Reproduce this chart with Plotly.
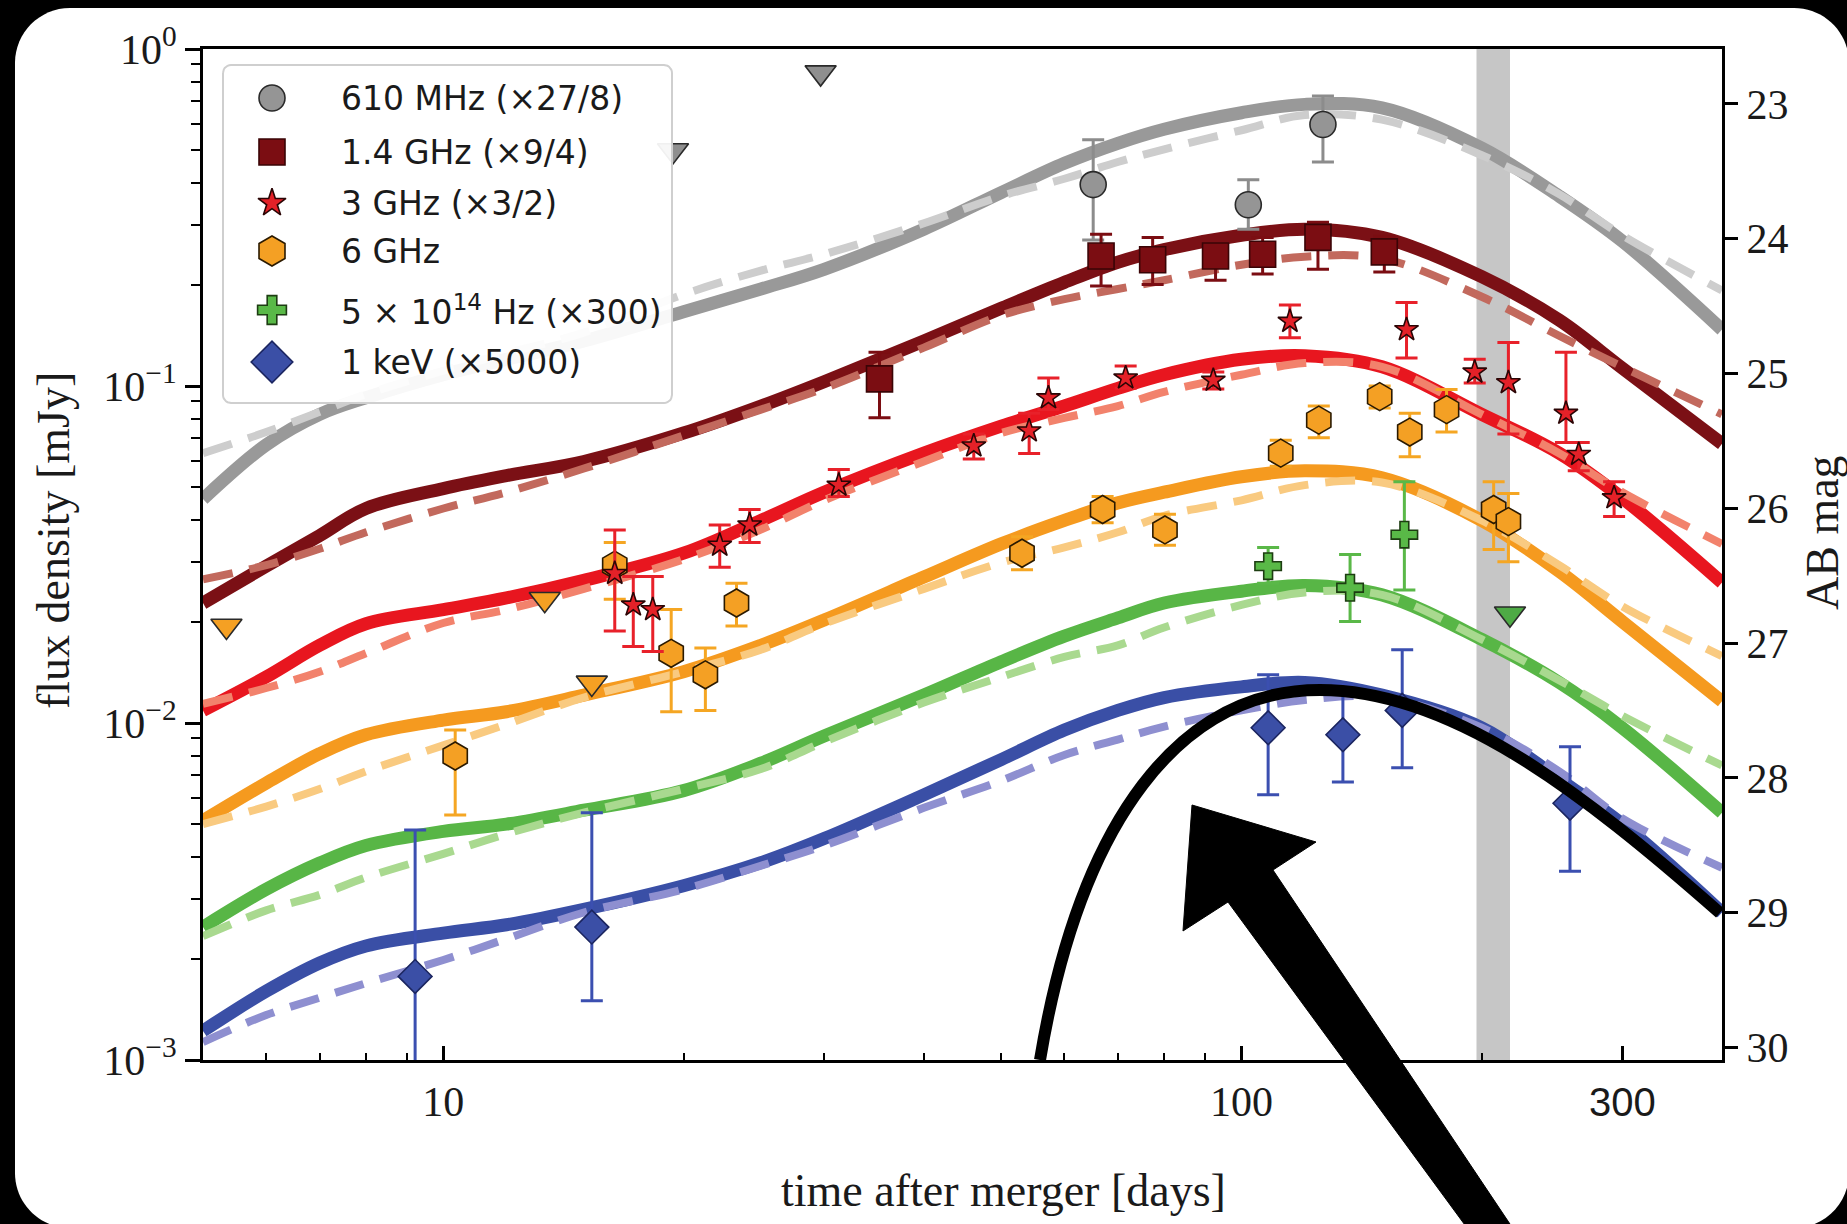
import numpy as np
import plotly.graph_objects as go

# ---------------- model light curves (days, mJy) ----------------
t_model = [5, 6, 7, 8, 10, 12, 15, 20, 25, 30, 40, 50, 60, 70, 80, 100, 120, 150, 200, 250, 300, 400]

m610_a = [0.0462, 0.0669, 0.0824, 0.0923, 0.108, 0.120, 0.136, 0.166, 0.194, 0.222, 0.292, 0.375, 0.458, 0.525, 0.578, 0.647, 0.685, 0.669, 0.508, 0.366, 0.269, 0.147]
m610_b = [0.0632, 0.0730, 0.0838, 0.0945, 0.111, 0.125, 0.144, 0.187, 0.220, 0.246, 0.304, 0.366, 0.412, 0.462, 0.504, 0.574, 0.637, 0.617, 0.484, 0.371, 0.280, 0.192]
m1p4_a = [0.0227, 0.0292, 0.0360, 0.0433, 0.0496, 0.0542, 0.0597, 0.0725, 0.0872, 0.103, 0.136, 0.170, 0.203, 0.233, 0.254, 0.280, 0.292, 0.276, 0.211, 0.157, 0.113, 0.0674]
m1p4_b = [0.0267, 0.0294, 0.0329, 0.0368, 0.0433, 0.0484, 0.0569, 0.0713, 0.0851, 0.0984, 0.130, 0.162, 0.181, 0.194, 0.206, 0.229, 0.242, 0.239, 0.184, 0.141, 0.114, 0.0824]
m3_a = [0.0109, 0.0137, 0.0170, 0.0197, 0.0217, 0.0235, 0.0265, 0.0319, 0.0399, 0.0484, 0.0632, 0.0760, 0.0872, 0.0984, 0.108, 0.120, 0.123, 0.114, 0.0824, 0.0632, 0.0465, 0.0261]
m3_b = [0.0114, 0.0127, 0.0142, 0.0161, 0.0198, 0.0217, 0.0250, 0.0306, 0.0375, 0.0458, 0.0597, 0.0725, 0.0804, 0.0872, 0.0960, 0.108, 0.117, 0.114, 0.0824, 0.0632, 0.0484, 0.0340]
m6_a = [0.00513, 0.00663, 0.00811, 0.00923, 0.0102, 0.0108, 0.0121, 0.0142, 0.0170, 0.0202, 0.0271, 0.0340, 0.0399, 0.0450, 0.0484, 0.0538, 0.0560, 0.0534, 0.0399, 0.0282, 0.0200, 0.0116]
m6_b = [0.00501, 0.00565, 0.00637, 0.00719, 0.00858, 0.00992, 0.0119, 0.0142, 0.0165, 0.0197, 0.0250, 0.0299, 0.0332, 0.0368, 0.0412, 0.0458, 0.0508, 0.0517, 0.0399, 0.0294, 0.0222, 0.0158]
mopt_a = [0.00248, 0.00321, 0.00384, 0.00433, 0.00477, 0.00501, 0.00551, 0.00630, 0.00760, 0.00915, 0.0121, 0.0152, 0.0181, 0.0205, 0.0227, 0.0246, 0.0256, 0.0240, 0.0177, 0.0132, 0.00968, 0.00542]
mopt_b = [0.00233, 0.00278, 0.00309, 0.00348, 0.00409, 0.00469, 0.00542, 0.00637, 0.00730, 0.00879, 0.0115, 0.0137, 0.0157, 0.0170, 0.0192, 0.0224, 0.0244, 0.0240, 0.0177, 0.0134, 0.0105, 0.00748]
mx_a = [0.00122, 0.00160, 0.00194, 0.00218, 0.00238, 0.00252, 0.00280, 0.00329, 0.00385, 0.00454, 0.00612, 0.00779, 0.00953, 0.0109, 0.0119, 0.0128, 0.0132, 0.0121, 0.00968, 0.00680, 0.00501, 0.00274]
mx_b = [0.00113, 0.00136, 0.00153, 0.00169, 0.00198, 0.00229, 0.00274, 0.00321, 0.00377, 0.00433, 0.00560, 0.00674, 0.00804, 0.00893, 0.00976, 0.0109, 0.0117, 0.0119, 0.00968, 0.00719, 0.00521, 0.00372]

# ---------------- observations ----------------
t_610 = [65.2, 102, 126.5]
f_610 = [0.396, 0.345, 0.597]
f_610_hi = [0.538, 0.409, 0.725]
f_610_lo = [0.271, 0.292, 0.462]
t_610_ul = [19.4, 29.7]
f_610_ul = [0.50, 0.851]

t_1p4 = [35.2, 66.7, 77.4, 92.8, 106.3, 124.7, 151]
f_1p4 = [0.105, 0.243, 0.237, 0.243, 0.246, 0.276, 0.250]
f_1p4_hi = [0.126, 0.282, 0.276, 0.263, 0.276, 0.306, 0.278]
f_1p4_lo = [0.0805, 0.198, 0.200, 0.206, 0.215, 0.222, 0.218]

t_3 = [16.4, 17.3, 18.3, 22.2, 24.2, 31.3, 46.2, 54.2, 57.3, 71.6, 92.2, 115, 161, 196, 216, 255, 264.6, 293]
f_3 = [0.0278, 0.0224, 0.0217, 0.0337, 0.0387, 0.0508, 0.0664, 0.0736, 0.0923, 0.1057, 0.104, 0.1556, 0.147, 0.110, 0.1023, 0.083, 0.0627, 0.0466]
f_3_hi = [0.0374, 0.0272, 0.0272, 0.0387, 0.043, 0.0565, 0.072, 0.083, 0.1057, 0.1146, 0.110, 0.174, 0.177, 0.120, 0.1346, 0.126, 0.068, 0.052]
f_3_lo = [0.01875, 0.01687, 0.0163, 0.029, 0.0343, 0.047, 0.0607, 0.063, 0.0851, 0.0984, 0.098, 0.139, 0.121, 0.102, 0.072, 0.068, 0.056, 0.041]

t_6 = [10.35, 16.4, 19.3, 21.3, 23.3, 53.1, 67, 80.2, 112, 125, 149, 162.5, 180.7, 207, 216]
f_6 = [0.00798, 0.0294, 0.0161, 0.0139, 0.0227, 0.0319, 0.043, 0.0374, 0.0632, 0.0792, 0.093, 0.073, 0.0851, 0.043, 0.0396]
f_6_hi = [0.00953, 0.0343, 0.0217, 0.0167, 0.026, 0.0357, 0.047, 0.0416, 0.069, 0.0873, 0.100, 0.083, 0.0977, 0.052, 0.048]
f_6_lo = [0.00533, 0.0233, 0.0108, 0.0109, 0.0194, 0.0285, 0.0393, 0.0337, 0.0578, 0.0702, 0.086, 0.0617, 0.073, 0.0327, 0.0301]
t_6_ul = [5.35, 13.4, 15.35]
f_6_ul = [0.0194, 0.0233, 0.01315]

t_opt = [108, 136.8, 160]
f_opt = [0.0292, 0.0252, 0.0362]
f_opt_hi = [0.0332, 0.0316, 0.052]
f_opt_lo = [0.026, 0.020, 0.0248]
t_opt_ul = [217]
f_opt_ul = [0.0211]

t_x = [9.22, 15.35, 108, 134, 159, 258]
f_x = [0.00177, 0.00248, 0.00968, 0.00923, 0.0109, 0.00578]
f_x_hi = [0.00481, 0.00542, 0.0139, 0.013, 0.0165, 0.0085]
f_x_lo = [0.0006, 0.0015, 0.00612, 0.00668, 0.00736, 0.00363]

band_days = [197, 217]

legend_labels = [
    "610 MHz (×27/8)",
    "1.4 GHz (×9/4)",
    "3 GHz (×3/2)",
    "6 GHz",
    "5 × 10<sup>14</sup> Hz (×300)",
    "1 keV (×5000)",
]
x_tickvals = [10, 100, 300]
mag_ticks = [23, 24, 25, 26, 27, 28, 29, 30]
x_range_days = [5, 400]
y_range_mjy = [1e-3, 1.0]

# ---------------- geometry helpers ----------------
W, H = 1847, 1224
L, R, T, B = 203, 1722, 49, 1060


def px(x, y):
    return (x - L) / (R - L), (B - y) / (B - T)


def P(x, y):
    a, b = px(x, y)
    return f"{a:.5f},{b:.5f}"


SERIF = "Liberation Serif"
SANS = "DejaVu Sans"

fig = go.Figure()

# shaded interval (drawn first, beneath everything)
fig.add_trace(go.Scatter(
    x=[band_days[0], band_days[1], band_days[1], band_days[0], band_days[0]],
    y=[y_range_mjy[0], y_range_mjy[0], y_range_mjy[1], y_range_mjy[1], y_range_mjy[0]],
    mode="lines", fill="toself", fillcolor="#c6c6c6", line=dict(width=0, color="#c6c6c6"),
    showlegend=False, hoverinfo="skip"))

curves = [
    (m610_a, m610_b, "#999999", "#cdcdcd"),
    (m1p4_a, m1p4_b, "#7b1015", "#c2695d"),
    (m3_a, m3_b, "#e8161f", "#f2826c"),
    (m6_a, m6_b, "#f59a1f", "#f9ca80"),
    (mopt_a, mopt_b, "#58b646", "#a9d98f"),
    (mx_a, mx_b, "#3a4fa6", "#8e8fd0"),
]
for solid, dashed, c1, c2 in curves:
    fig.add_trace(go.Scatter(x=t_model, y=solid, mode="lines", showlegend=False, hoverinfo="skip",
                             line=dict(color=c1, width=13, shape="spline", smoothing=1.0)))
    fig.add_trace(go.Scatter(x=t_model, y=dashed, mode="lines", showlegend=False, hoverinfo="skip",
                             line=dict(color=c2, width=8, dash="30px,17px", shape="spline", smoothing=1.0)))


def add_points(t, f, hi, lo, symbol, size, fill, edge, ecol):
    f = np.array(f); hi = np.array(hi); lo = np.array(lo)
    fig.add_trace(go.Scatter(
        x=t, y=f, mode="markers", showlegend=False, hoverinfo="skip",
        marker=dict(symbol=symbol, size=size, color=fill, opacity=1, line=dict(color=edge, width=1.6)),
        error_y=dict(type="data", symmetric=False, array=hi - f, arrayminus=f - lo,
                     color=ecol, thickness=3, width=11)))


def add_limits(t, f, fill):
    fig.add_trace(go.Scatter(
        x=t, y=f, mode="markers", showlegend=False, hoverinfo="skip",
        marker=dict(symbol="triangle-down", size=27, color=fill, opacity=1,
                    line=dict(color="#2a2a2a", width=1.6))))


add_limits(t_610_ul, f_610_ul, "#8f8f8f")
add_limits(t_6_ul, f_6_ul, "#f5a023")
add_limits(t_opt_ul, f_opt_ul, "#4eaa45")
add_points(t_610, f_610, f_610_hi, f_610_lo, "circle", 26, "#959595", "#2a2a2a", "#8c8c8c")
add_points(t_1p4, f_1p4, f_1p4_hi, f_1p4_lo, "square", 26, "#7b0d12", "#3a0406", "#7b0d12")
add_points(t_6, f_6, f_6_hi, f_6_lo, "hexagon", 28, "#f4a024", "#2b1a00", "#f5a623")
add_points(t_3, f_3, f_3_hi, f_3_lo, "star", 18, "#e42128", "#2a0505", "#e8212a")
add_points(t_opt, f_opt, f_opt_hi, f_opt_lo, "cross", 22, "#59b947", "#1d3d12", "#5ab848")
add_points(t_x, f_x, f_x_hi, f_x_lo, "diamond", 26, "#3b4fa6", "#1b2560", "#3b4fb0")


def ab_mag(f):
    return -2.5 * np.log10(np.asarray(f, dtype=float) / 300.0 * 1e-3 / 3631.0)


# invisible trace so that the AB-magnitude axis is instantiated
fig.add_trace(go.Scatter(x=t_model, y=ab_mag(mopt_a), yaxis="y2", mode="lines", opacity=0,
                         line=dict(width=0), showlegend=False, hoverinfo="skip"))

# ---------------- custom legend on pixel-like overlay axes ----------------
bx0, by0, bx1, by1, br = 223, 65, 672, 403, 8
xs, ys = [], []
for cx, cy, a0 in [(bx0 + br, by0 + br, 180), (bx1 - br, by0 + br, 270),
                   (bx1 - br, by1 - br, 0), (bx0 + br, by1 - br, 90)]:
    ang = np.radians(np.linspace(a0, a0 + 90, 8))
    xs += list(cx + br * np.cos(ang)); ys += list(cy + br * np.sin(ang))
xs.append(xs[0]); ys.append(ys[0])
fig.add_trace(go.Scatter(x=xs, y=ys, mode="lines", fill="toself", fillcolor="rgba(255,255,255,0.93)",
                         line=dict(color="#cfcfcf", width=2), xaxis="x3", yaxis="y3",
                         showlegend=False, hoverinfo="skip"))
leg_rows = [98, 152, 203, 251, 310, 362]
fig.add_trace(go.Scatter(
    x=[272] * 6, y=leg_rows, mode="markers", xaxis="x3", yaxis="y3", showlegend=False, hoverinfo="skip",
    marker=dict(symbol=["circle", "square", "star", "hexagon", "cross", "diamond"],
                size=[26, 26, 21, 30, 24, 32], opacity=1,
                color=["#959595", "#7b0d12", "#e42128", "#f4a024", "#59b947", "#3b4fa6"],
                line=dict(color=["#2a2a2a", "#3a0406", "#2a0505", "#2b1a00", "#1d3d12", "#1b2560"], width=1.6))))

annotations = []
for lab, yy in zip(legend_labels, leg_rows):
    annotations.append(dict(x=339, y=yy, xref="x3", yref="y3", text=lab, showarrow=False,
                            xanchor="left", yanchor="middle",
                            font=dict(family=SANS, size=33, color="#1a1a1a")))

ax_, ay_ = px(1003, 1190)
annotations.append(dict(x=ax_, y=ay_, xref="paper", yref="paper", text="time after merger [days]",
                        showarrow=False, xanchor="center", yanchor="middle",
                        font=dict(family=SERIF, size=46, color="#1a1a1a")))
ax_, ay_ = px(53, 541)
annotations.append(dict(x=ax_, y=ay_, xref="paper", yref="paper", text="flux density [mJy]",
                        showarrow=False, textangle=-90, xanchor="center", yanchor="middle",
                        font=dict(family=SERIF, size=46, color="#1a1a1a")))
ax_, ay_ = px(1822, 533)
annotations.append(dict(x=ax_, y=ay_, xref="paper", yref="paper", text="AB mag",
                        showarrow=False, textangle=-90, xanchor="center", yanchor="middle",
                        font=dict(family=SERIF, size=46, color="#1a1a1a")))

# ---------------- shapes ----------------
px0, py0, px1, py1, pr = 15, 8, 1849, 1228, 55
k = 0.5523 * pr
panel_path = (f"M {P(px0 + pr, py0)} L {P(px1 - pr, py0)} "
              f"C {P(px1 - pr + k, py0)} {P(px1, py0 + pr - k)} {P(px1, py0 + pr)} "
              f"L {P(px1, py1 - pr)} C {P(px1, py1 - pr + k)} {P(px1 - pr + k, py1)} {P(px1 - pr, py1)} "
              f"L {P(px0 + pr, py1)} C {P(px0 + pr - k, py1)} {P(px0, py1 - pr + k)} {P(px0, py1 - pr)} "
              f"L {P(px0, py0 + pr)} C {P(px0, py0 + pr - k)} {P(px0 + pr - k, py0)} {P(px0 + pr, py0)} Z")

arc_path = (f"M {P(1040, 1060)} C {P(1080, 820)} {P(1180, 690)} {P(1320, 690)} "
            f"C {P(1450, 690)} {P(1580, 790)} {P(1720, 913)}")
arrow_path = (f"M {P(1192, 805)} L {P(1316, 842)} L {P(1273, 870)} L {P(1518, 1236)} "
              f"L {P(1473, 1236)} L {P(1228, 902)} L {P(1183, 931)} Z")

shapes = [
    dict(type="path", path=panel_path, xref="paper", yref="paper", layer="below",
         fillcolor="white", line=dict(width=0)),
    dict(type="path", path=arc_path, xref="paper", yref="paper", layer="above",
         line=dict(color="black", width=12)),
    dict(type="path", path=arrow_path, xref="paper", yref="paper", layer="above",
         fillcolor="black", line=dict(color="black", width=1)),
]

y_minor = [m * 10.0 ** e for e in (-3, -2, -1) for m in range(2, 10)]
tickfont = dict(family=SERIF, size=42, color="#1a1a1a")

fig.update_layout(
    width=W, height=H, autosize=False,
    margin=dict(l=L, r=W - R, t=T, b=H - B, pad=0),
    paper_bgcolor="black", plot_bgcolor="rgba(0,0,0,0)",
    showlegend=False,
    xaxis=dict(type="log", range=[np.log10(x_range_days[0]), np.log10(x_range_days[1])],
               tickmode="array", tickvals=x_tickvals,
               ticktext=["10", "100", '<span style="font-family:Liberation Sans;font-size:40px">300</span>'],
               ticks="inside", ticklen=14, tickwidth=2.5, tickcolor="black",
               ticklabelstandoff=3,
               minor=dict(tickvals=[6, 7, 8, 9, 20, 30, 40, 50, 60, 70, 80, 90, 200],
                          ticks="inside", ticklen=7, tickwidth=2, tickcolor="black", showgrid=False),
               showline=True, linewidth=3, linecolor="black", mirror=True,
               showgrid=False, zeroline=False, tickfont=tickfont),
    yaxis=dict(type="log", range=[np.log10(y_range_mjy[0]), np.log10(y_range_mjy[1])], tickmode="array",
               tickvals=[1e-3, 1e-2, 1e-1, 1],
               ticktext=["10<sup>−3</sup>", "10<sup>−2</sup>", "10<sup>−1</sup>", "10<sup>0</sup>"],
               ticks="outside", ticklen=15, tickwidth=2.5, tickcolor="black",
               minor=dict(tickvals=y_minor, ticks="outside", ticklen=9, tickwidth=2,
                          tickcolor="black", showgrid=False),
               showline=True, linewidth=3, linecolor="black", mirror=False,
               showgrid=False, zeroline=False, tickfont=tickfont),
    yaxis2=dict(overlaying="y", side="right", anchor="x",
                range=[float(ab_mag(y_range_mjy[0])), float(ab_mag(y_range_mjy[1]))],
                tickmode="array", tickvals=mag_ticks,
                ticks="outside", ticklen=13, tickwidth=2.5, tickcolor="black",
                showline=True, linewidth=3, linecolor="black",
                showgrid=False, zeroline=False, tickfont=tickfont),
    xaxis3=dict(overlaying="x", anchor="y3", range=[L, R], visible=False),
    yaxis3=dict(overlaying="y", anchor="x3", range=[B, T], visible=False),
    shapes=shapes,
    annotations=annotations,
)

fig.write_html("out.html")
